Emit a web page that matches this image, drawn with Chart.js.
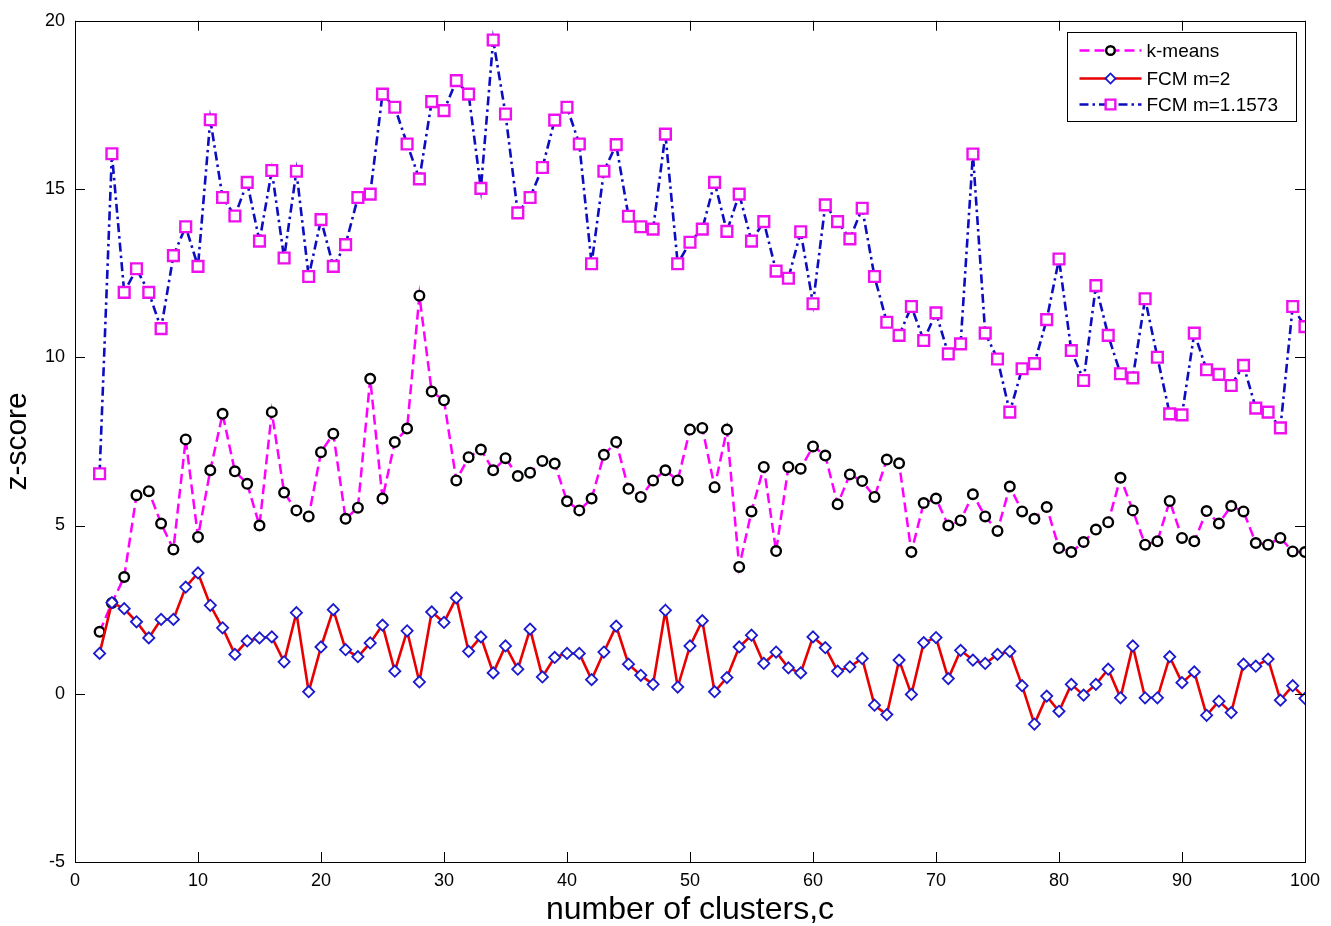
<!DOCTYPE html>
<html>
<head>
<meta charset="utf-8">
<script src="https://cdn.jsdelivr.net/npm/chart.js@4.4.1/dist/chart.umd.min.js"></script>
<style>
html,body{margin:0;padding:0;background:#ffffff;}
#wrap{width:1331px;height:926px;position:relative;}
canvas{display:block;}
</style>
</head>
<body>
<div id="wrap"><canvas id="c" width="1331" height="926"></canvas></div>
<script>
// ---- data ----
const clusters = [2,3,4,5,6,7,8,9,10,11,12,13,14,15,16,17,18,19,20,21,22,23,24,25,26,27,28,29,30,31,32,33,34,35,36,37,38,39,40,41,42,43,44,45,46,47,48,49,50,51,52,53,54,55,56,57,58,59,60,61,62,63,64,65,66,67,68,69,70,71,72,73,74,75,76,77,78,79,80,81,82,83,84,85,86,87,88,89,90,91,92,93,94,95,96,97,98,99,100];

const kmeans = [1.84,2.7,3.47,5.9,6.02,5.06,4.29,7.56,4.66,6.64,
  8.32,6.61,6.24,5.0,8.37,5.98,5.45,5.27,7.18,7.73,
  5.2,5.53,9.36,5.8,7.48,7.88,11.83,8.98,8.72,6.34,
  7.03,7.26,6.64,7.0,6.47,6.57,6.92,6.84,5.72,5.45,
  5.8,7.1,7.48,6.09,5.85,6.34,6.64,6.34,7.85,7.9,
  6.14,7.85,3.77,5.42,6.74,4.24,6.74,6.69,7.35,7.08,
  5.63,6.52,6.32,5.85,6.96,6.85,4.21,5.67,5.8,5.0,
  5.15,5.93,5.27,4.84,6.16,5.42,5.2,5.55,4.33,4.21,
  4.51,4.88,5.1,6.42,5.45,4.43,4.53,5.73,4.63,4.53,
  5.43,5.06,5.58,5.42,4.48,4.43,4.63,4.23,4.21];

const fcmM2 = [1.2,2.71,2.53,2.14,1.66,2.21,2.21,3.17,3.59,2.63,
  1.96,1.17,1.57,1.66,1.69,0.95,2.41,0.06,1.39,2.5,
  1.31,1.1,1.51,2.04,0.67,1.87,0.35,2.43,2.12,2.85,
  1.26,1.69,0.62,1.42,0.73,1.92,0.5,1.08,1.2,1.2,
  0.42,1.24,2.01,0.88,0.55,0.28,2.48,0.2,1.42,2.17,
  0.06,0.48,1.39,1.74,0.9,1.24,0.77,0.62,1.69,1.37,
  0.67,0.8,1.05,-0.34,-0.62,1.0,-0.02,1.52,1.67,0.45,
  1.29,1.0,0.9,1.17,1.26,0.24,-0.9,-0.07,-0.52,0.28,
  -0.04,0.28,0.73,-0.12,1.42,-0.12,-0.12,1.1,0.33,0.65,
  -0.64,-0.22,-0.56,0.88,0.82,1.03,-0.19,0.24,-0.14];

const fcmM11573 = [6.54,16.05,11.93,12.63,11.93,10.85,13.02,13.88,12.7,17.06,
  14.75,14.2,15.2,13.45,15.55,12.95,15.53,12.4,14.09,12.7,
  13.35,14.75,14.85,17.82,17.43,16.34,15.3,17.6,17.33,18.22,
  17.82,15.02,19.43,17.23,14.29,14.75,15.64,17.05,17.43,16.34,
  12.78,15.53,16.32,14.19,13.88,13.81,16.63,12.78,13.42,13.81,
  15.2,13.74,14.85,13.45,14.03,12.56,12.35,13.73,11.59,14.53,
  14.03,13.52,14.43,12.4,11.04,10.65,11.51,10.5,11.32,10.1,
  10.4,16.04,10.72,9.95,8.37,9.66,9.81,11.12,12.92,10.2,
  9.31,12.13,10.65,9.51,9.39,11.74,10.0,8.32,8.29,10.72,
  9.63,9.49,9.16,9.76,8.49,8.37,7.9,11.51,10.91];

const xTickValues = [0,10,20,30,40,50,60,70,80,90,100];
const yTickValues = [-5,0,5,10,15,20];
const seriesNames = ['k-means','FCM m=2','FCM m=1.1573'];
const xTitle = 'number of clusters,c';
const yTitle = 'z-score';

// ---- build ----
const FONT = "'Liberation Sans', Arial, sans-serif";
function pts(arr){ return clusters.map((c,i)=>({x:c,y:arr[i]})); }

const datasets = [
  { label: seriesNames[0], data: pts(kmeans), order: 1,
    borderColor:'#ff00ff', borderWidth:2.5, borderDash:[10,5],
    pointStyle:'circle', pointRadius:4.8, pointBorderWidth:2.4,
    pointBorderColor:'#000000', pointBackgroundColor:'#ffffff' },
  { label: seriesNames[1], data: pts(fcmM2), order: 0,
    borderColor:'#e80000', borderWidth:2.6,
    pointStyle:'rectRot', pointRadius:5.6, pointBorderWidth:1.8,
    pointBorderColor:'#1a1ad0', pointBackgroundColor:'#ffffff' },
  { label: seriesNames[2], data: pts(fcmM11573), order: 2,
    borderColor:'#0c0cc0', borderWidth:2.6, borderDash:[9,4,2.5,4],
    pointStyle:'rect', pointRadius:7.6, pointBorderWidth:2.4,
    pointBorderColor:'#ee10ee', pointBackgroundColor:'#ffffff' }
];

const frame = {
  id:'frame',
  afterDraw(chart){
    const {ctx, chartArea:a, scales} = chart;
    ctx.save();
    ctx.strokeStyle = '#000';
    ctx.lineWidth = 1;
    ctx.setLineDash([]);
    ctx.strokeRect(Math.round(a.left)+0.5, Math.round(a.top)+0.5, Math.round(a.right-a.left), Math.round(a.bottom-a.top));
    const L = 10;
    ctx.beginPath();
    xTickValues.forEach(v=>{
      const x = Math.round(scales.x.getPixelForValue(v))+0.5;
      ctx.moveTo(x,a.bottom); ctx.lineTo(x,a.bottom-L);
      ctx.moveTo(x,a.top); ctx.lineTo(x,a.top+L);
    });
    yTickValues.forEach(v=>{
      const y = Math.round(scales.y.getPixelForValue(v))+0.5;
      ctx.moveTo(a.left,y); ctx.lineTo(a.left+L,y);
      ctx.moveTo(a.right,y); ctx.lineTo(a.right-L,y);
    });
    ctx.stroke();

    // legend
    const bw = 229, bh = 89;
    const bx = Math.round(a.right - 9 - bw) + 0.5, by = Math.round(a.top + 11) + 0.5;
    ctx.fillStyle = '#fff';
    ctx.fillRect(bx, by, bw, bh);
    ctx.strokeRect(bx, by, bw, bh);
    const rows = [18, 46, 72];
    chart.data.datasets.forEach((ds,i)=>{
      const y = by + rows[i];
      const x0 = bx + 12, x1 = bx + 74, xm = bx + 43;
      ctx.save();
      ctx.strokeStyle = ds.borderColor;
      ctx.lineWidth = ds.borderWidth;
      ctx.setLineDash(ds.borderDash || []);
      ctx.beginPath(); ctx.moveTo(x0,y); ctx.lineTo(x1,y); ctx.stroke();
      ctx.setLineDash([]);
      ctx.strokeStyle = ds.pointBorderColor;
      ctx.fillStyle = ds.pointBackgroundColor;
      ctx.lineWidth = ds.pointBorderWidth;
      Chart.helpers.drawPoint(ctx, {pointStyle: ds.pointStyle, radius: ds.pointRadius*0.9, rotation:0, borderWidth: ds.pointBorderWidth}, xm, y);
      ctx.restore();
      ctx.fillStyle = '#000';
      ctx.font = "19px " + FONT;
      ctx.textBaseline = 'middle';
      ctx.textAlign = 'left';
      ctx.fillText(ds.label, bx + 79, y + 1);
    });
    ctx.restore();
  }
};

new Chart(document.getElementById('c'), {
  type: 'line',
  data: { datasets },
  options: {
    responsive: false,
    animation: false,
    devicePixelRatio: 1,
    layout: { padding: { top: 20, right: 26, left: 0, bottom: 0 } },
    elements: { line: { tension: 0, fill: false } },
    plugins: { legend: { display: false }, tooltip: { enabled: false } },
    scales: {
      x: {
        type: 'linear', min: 0, max: 100,
        afterFit(s){ s.height = 64; },
        afterBuildTicks(s){ s.ticks = xTickValues.map(v=>({value:v})); },
        grid: { display: false, drawTicks: false },
        border: { display: false },
        ticks: { padding: 8, color:'#000', font: { family: FONT, size: 18 }, maxRotation:0, autoSkip:false },
        title: { display: true, text: xTitle, color:'#000', font: { family: FONT, size: 32, lineHeight: 1 }, padding: { top: 0, bottom: 0 } }
      },
      y: {
        type: 'linear', min: -5, max: 20,
        afterFit(s){ s.width = 75; },
        afterBuildTicks(s){ s.ticks = yTickValues.map(v=>({value:v})); },
        grid: { display: false, drawTicks: false },
        border: { display: false },
        ticks: { padding: 10, color:'#000', font: { family: FONT, size: 18 } },
        title: { display: true, text: yTitle, color:'#000', font: { family: FONT, size: 30, lineHeight: 1 }, padding: { top: 3, bottom: 0 } }
      }
    }
  },
  plugins: [frame]
});
</script>
</body>
</html>
